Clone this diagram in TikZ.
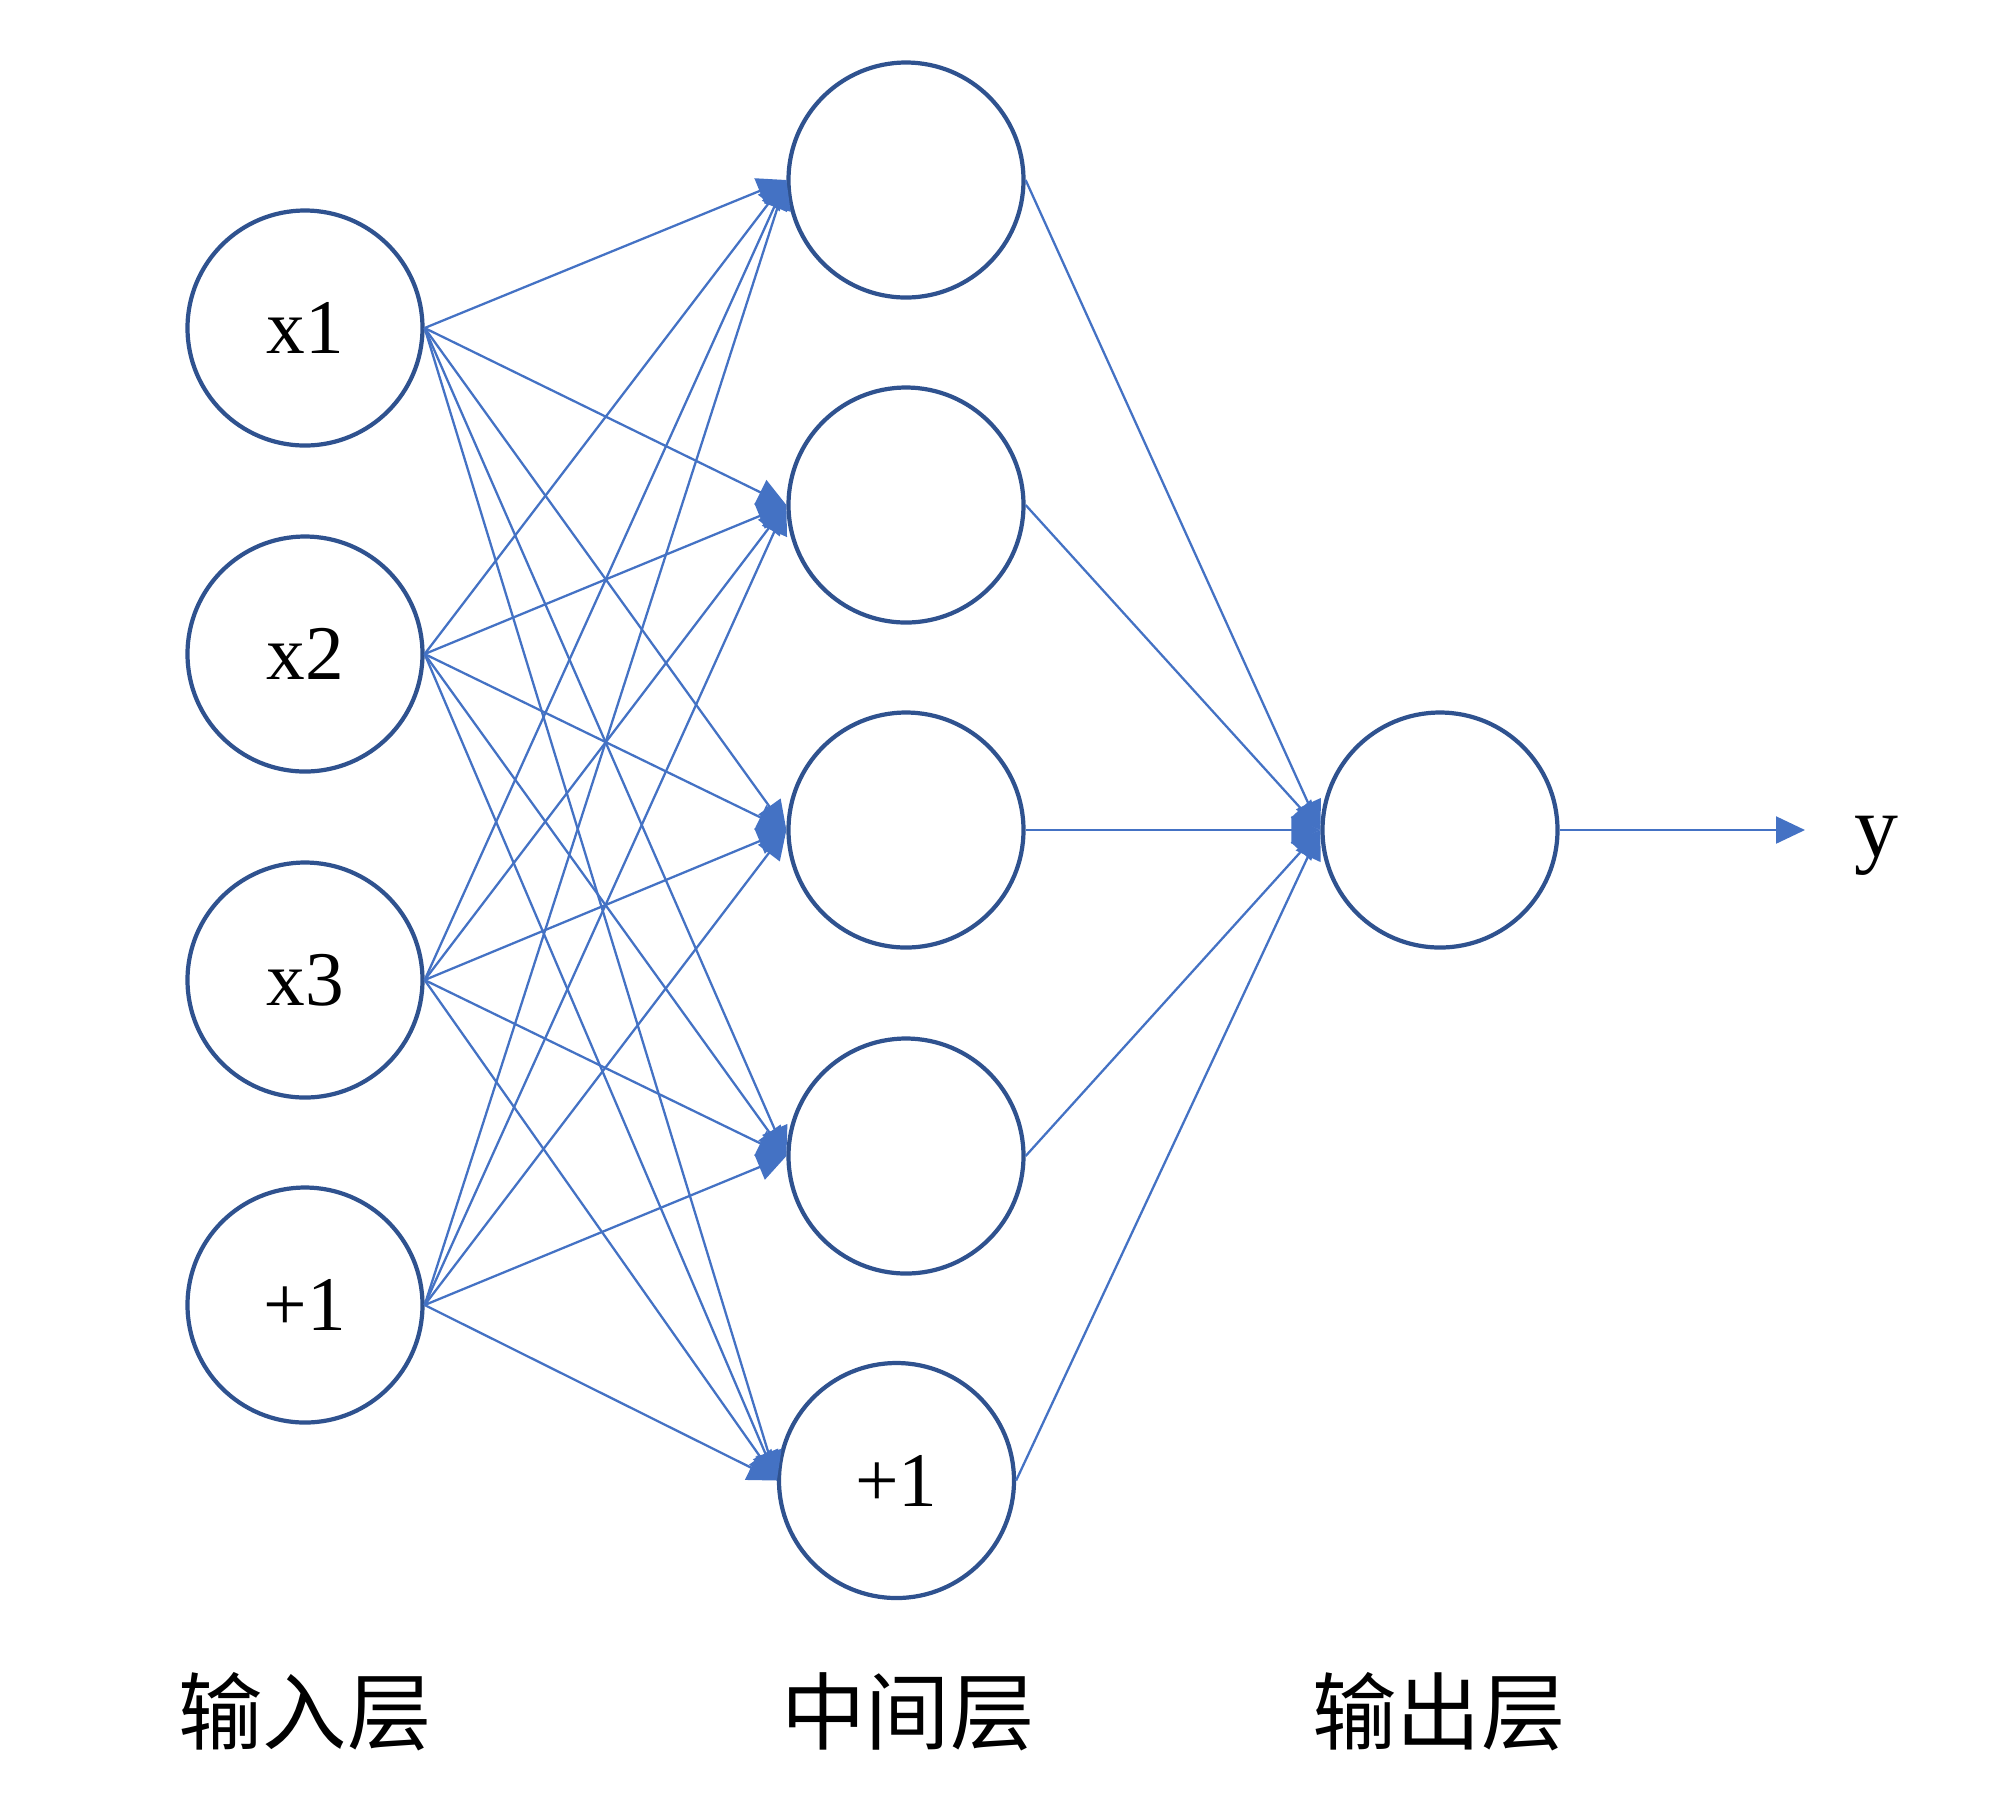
\documentclass[tikz,border=0pt]{standalone}
\usepackage{fontspec}
\setmainfont{Liberation Serif}
\newfontfamily\cjk{Noto Sans CJK SC}
\usetikzlibrary{arrows.meta}
\definecolor{lineblue}{HTML}{4472C4}
\definecolor{ringblue}{HTML}{2F528F}
\begin{document}
\begin{tikzpicture}[x=1cm,y=1cm,
  neuron/.style={circle, draw=ringblue, line width=1.2pt, minimum size=2.35cm, inner sep=0pt, font=\fontsize{22}{26}\selectfont},
  conn/.style={draw=lineblue, line width=0.65pt, -{Triangle[length=0.29cm,width=0.27cm]}},
  layerlabel/.style={font=\cjk\fontsize{24}{28}\selectfont},
  outlabel/.style={font=\fontsize{25}{29}\selectfont}]
\useasboundingbox (0,0) rectangle (20,-18);
% input layer
\node[neuron] (i1) at (3.05,-3.28) {x1};
\node[neuron] (i2) at (3.05,-6.54) {x2};
\node[neuron] (i3) at (3.05,-9.80) {x3};
\node[neuron] (i4) at (3.05,-13.05) {+1};
% hidden layer
\node[neuron] (h1) at (9.06,-1.80) {};
\node[neuron] (h2) at (9.06,-5.05) {};
\node[neuron] (h3) at (9.06,-8.30) {};
\node[neuron] (h4) at (9.06,-11.56) {};
\node[neuron] (h5) at (8.965,-14.805) {+1};
% output layer
\node[neuron] (o) at (14.40,-8.30) {};
\coordinate (yend) at (18.05,-8.30);
\node[outlabel] (ylab) at (18.76,-8.46) {y};
% connectors
\foreach \i in {1,...,4}
  \foreach \j in {1,...,5}
    \draw[conn] (i\i.east) -- (h\j.west);
\foreach \j in {1,...,5}
  \draw[conn] (h\j.east) -- (o.west);
\draw[conn] (o.east) -- (yend);
% layer labels
\node[layerlabel] (l1) at (3.05,-17.12) {输入层};
\node[layerlabel] (l2) at (9.08,-17.12) {中间层};
\node[layerlabel] (l3) at (14.39,-17.12) {输出层};
\end{tikzpicture}
\end{document}
